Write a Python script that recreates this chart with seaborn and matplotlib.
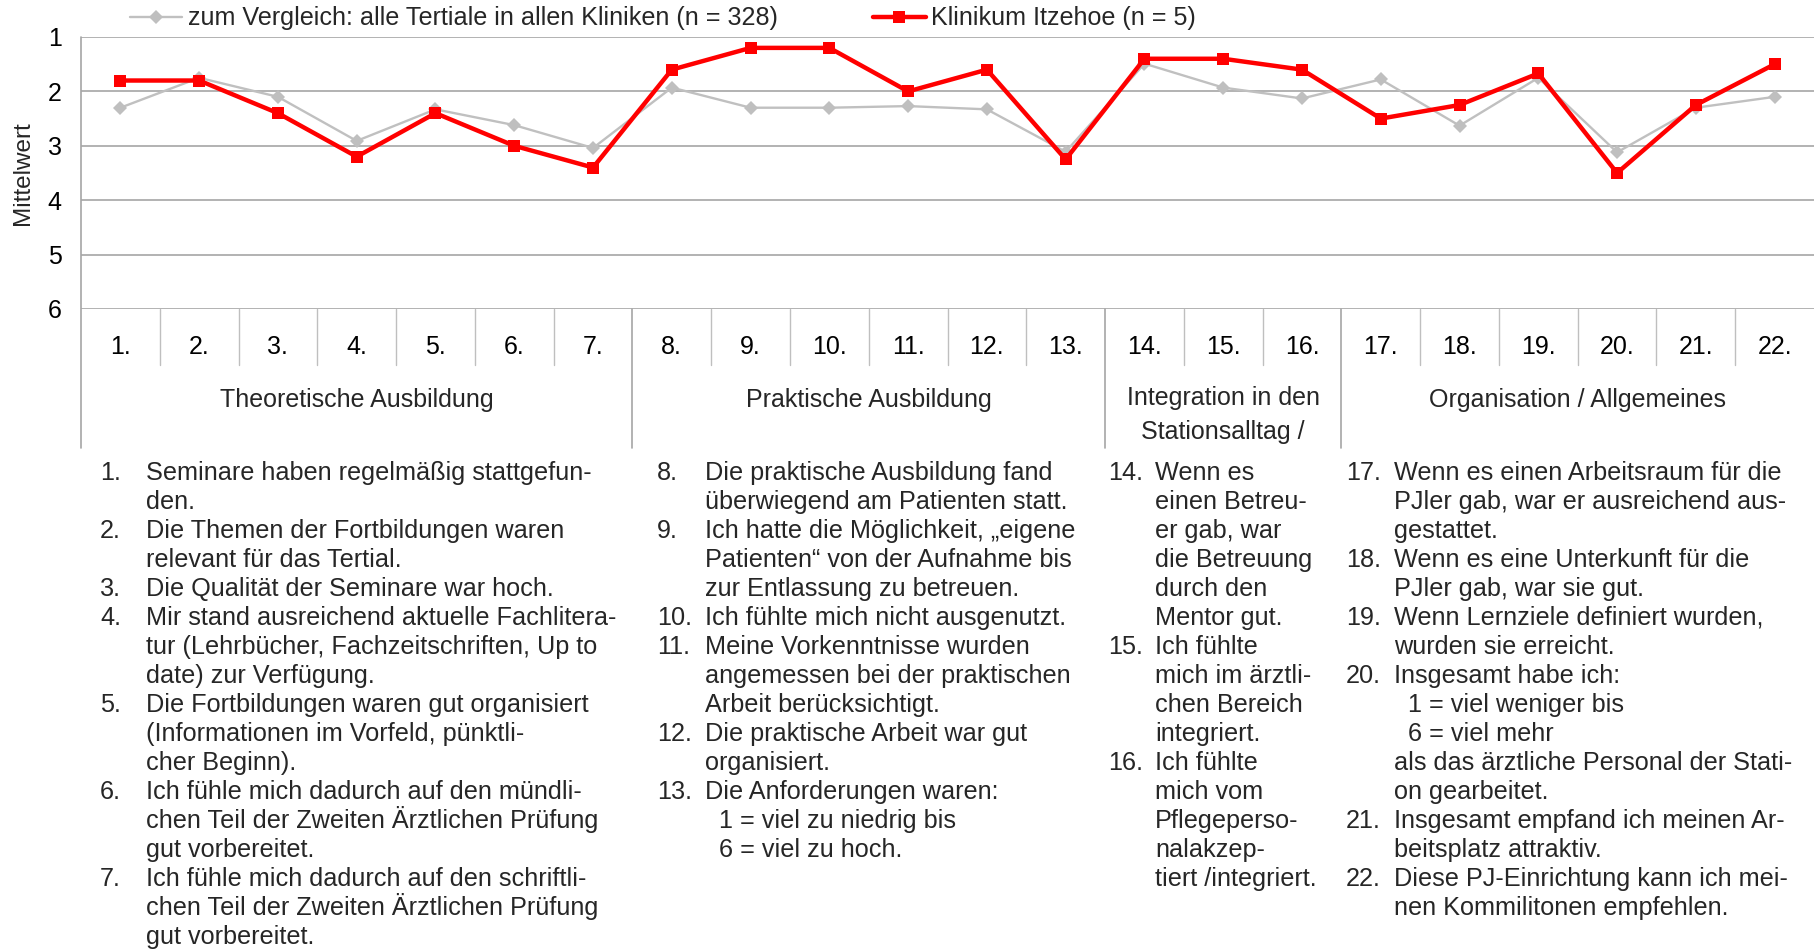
import numpy as np
import pandas as pd
import matplotlib
matplotlib.use("Agg")
import matplotlib.pyplot as plt
import seaborn as sns

# Daten
items = list(range(1, 23))
item_labels = [f"{i}." for i in items]
alle_kliniken = [2.30, 1.75, 2.10, 2.91, 2.33, 2.62, 3.04, 1.93, 2.30, 2.30, 2.27,
                 2.33, 3.11, 1.49, 1.93, 2.13, 1.78, 2.63, 1.75, 3.12, 2.30, 2.10]
itzehoe = [1.8, 1.8, 2.4, 3.2, 2.4, 3.0, 3.4, 1.6, 1.2, 1.2, 2.0,
           1.6, 3.25, 1.4, 1.4, 1.6, 2.5, 2.25, 1.67, 3.5, 2.25, 1.5]
label_alle = "zum Vergleich: alle Tertiale in allen Kliniken (n = 328)"
label_itzehoe = "Klinikum Itzehoe (n = 5)"

gruppen = ["Theoretische Ausbildung", "Praktische Ausbildung",
           "Integration in den\nStationsalltag /", "Organisation / Allgemeines"]
gruppen_von_bis = [(1, 7), (8, 13), (14, 16), (17, 22)]

spalte1 = [
    ("1.", ["Seminare haben regelmäßig stattgefun-", "den."]),
    ("2.", ["Die Themen der Fortbildungen waren", "relevant für das Tertial."]),
    ("3.", ["Die Qualität der Seminare war hoch."]),
    ("4.", ["Mir stand ausreichend aktuelle Fachlitera-",
            "tur (Lehrbücher, Fachzeitschriften, Up to", "date) zur Verfügung."]),
    ("5.", ["Die Fortbildungen waren gut organisiert",
            "(Informationen im Vorfeld, pünktli-", "cher Beginn)."]),
    ("6.", ["Ich fühle mich dadurch auf den mündli-",
            "chen Teil der Zweiten Ärztlichen Prüfung", "gut vorbereitet."]),
    ("7.", ["Ich fühle mich dadurch auf den schriftli-",
            "chen Teil der Zweiten Ärztlichen Prüfung", "gut vorbereitet."]),
]
spalte2 = [
    ("8.", ["Die praktische Ausbildung fand", "überwiegend am Patienten statt."]),
    ("9.", ["Ich hatte die Möglichkeit, „eigene", "Patienten“ von der Aufnahme bis",
            "zur Entlassung zu betreuen."]),
    ("10.", ["Ich fühlte mich nicht ausgenutzt."]),
    ("11.", ["Meine Vorkenntnisse wurden", "angemessen bei der praktischen",
             "Arbeit berücksichtigt."]),
    ("12.", ["Die praktische Arbeit war gut", "organisiert."]),
    ("13.", ["Die Anforderungen waren:", "  1 = viel zu niedrig bis", "  6 = viel zu hoch."]),
]
spalte3 = [
    ("14.", ["Wenn es", "einen Betreu-", "er gab, war", "die Betreuung", "durch den", "Mentor gut."]),
    ("15.", ["Ich fühlte", "mich im ärztli-", "chen Bereich", "integriert."]),
    ("16.", ["Ich fühlte", "mich vom", "Pflegeperso-", "nalakzep-", "tiert /integriert."]),
]
spalte4 = [
    ("17.", ["Wenn es einen Arbeitsraum für die", "PJler gab, war er ausreichend aus-",
             "gestattet."]),
    ("18.", ["Wenn es eine Unterkunft für die", "PJler gab, war sie gut."]),
    ("19.", ["Wenn Lernziele definiert wurden,", "wurden sie erreicht."]),
    ("20.", ["Insgesamt habe ich:", "  1 = viel weniger bis", "  6 = viel mehr",
             "als das ärztliche Personal der Stati-", "on gearbeitet."]),
    ("21.", ["Insgesamt empfand ich meinen Ar-", "beitsplatz attraktiv."]),
    ("22.", ["Diese PJ-Einrichtung kann ich mei-", "nen Kommilitonen empfehlen."]),
]

sns.set_style("white")
plt.rcParams["font.family"] = ["Liberation Sans", "DejaVu Sans"]

W, H = 1814, 949
fig = plt.figure(figsize=(W / 100, H / 100), dpi=100)
ax = fig.add_axes([81 / W, 1 - 309 / H, (W - 81) / W, (309 - 37) / H])

df = pd.DataFrame({"Item": items, "alle": alle_kliniken, "itz": itzehoe})
sns.lineplot(data=df, x="Item", y="alle", ax=ax, color="#C0C0C0", linewidth=1.7,
             marker="D", markersize=7, markeredgewidth=0, markerfacecolor="#BFBFBF",
             label=label_alle, zorder=3)
sns.lineplot(data=df, x="Item", y="itz", ax=ax, color="#FF0000", linewidth=3.2,
             marker="s", markersize=8, markeredgewidth=0, markerfacecolor="#FF0000",
             label=label_itzehoe, zorder=4)

ax.set_xlim(0.5, 22.5)
ax.set_ylim(6, 1)
ax.set_yticks([1, 2, 3, 4, 5, 6])
ax.set_yticklabels(["1", "2", "3", "4", "5", "6"])
ax.set_xticks(items)
ax.set_xticklabels(item_labels)
ax.tick_params(axis="both", length=0, labelsize=18, colors="#000000")
ax.tick_params(axis="x", pad=27.6)
ax.tick_params(axis="y", pad=14)
for lab in ax.get_xticklabels():
    lab.set_verticalalignment("center")
for s in ax.spines.values():
    s.set_visible(False)
ax.yaxis.grid(True, color="#A6A6A6", linewidth=1.2)
ax.xaxis.grid(False)
ax.set_xlabel("")
ax.set_ylabel("Mittelwert", fontsize=17.5)
ax.yaxis.set_label_coords(-0.0335, 0.5)
ax.yaxis.label.set_verticalalignment("center")

# Kategorie- und Gruppenzeilen unter der Achse
xt = ax.get_xaxis_transform()
zeile_unten = (309 - 365) / 272
gruppe_unten = (309 - 448) / 272
grenzen = [b + 0.5 for _, b in gruppen_von_bis[:-1]]
for i in items[:-1]:
    if i + 0.5 not in grenzen:
        ax.plot([i + 0.5, i + 0.5], [0, zeile_unten], transform=xt, color="#BFBFBF",
                linewidth=1.0, clip_on=False)
for g in [0.5] + grenzen:
    ax.plot([g, g], [1, gruppe_unten] if g == 0.5 else [0, gruppe_unten], transform=xt,
            color="#A6A6A6", linewidth=1.2, clip_on=False)

for name, (a, b) in zip(gruppen, gruppen_von_bis):
    if "\n" in name:
        ax.text((a + b) / 2, (309 - 415) / 272, name, transform=xt, ha="center",
                va="center", fontsize=18, linespacing=1.5)
    else:
        ax.text((a + b) / 2, (309 - 399.5) / 272, name, transform=xt, ha="center",
                va="center", fontsize=18)

# Legende
handles, labels = ax.get_legend_handles_labels()
if ax.get_legend() is not None:
    ax.get_legend().remove()
fig.legend(handles, labels, loc="center left", bbox_to_anchor=(130 / W, 1 - 18.5 / H),
           ncol=2, frameon=False, fontsize=18.1, handlelength=2.08, handletextpad=0.22,
           columnspacing=3.8, borderpad=0, borderaxespad=0)

# Erläuterungstexte
def spalte(eintraege, x_nr, x_txt, y0=480, dy=29):
    zeile = 0
    for nr, zeilen in eintraege:
        fig.text(x_nr / W, 1 - (y0 + dy * zeile) / H, nr, fontsize=18.2, va="baseline")
        for z in zeilen:
            fig.text(x_txt / W, 1 - (y0 + dy * zeile) / H, z, fontsize=18.2, va="baseline")
            zeile += 1

spalte(spalte1, 100, 146)
spalte(spalte2, 657, 705)
spalte(spalte3, 1108, 1155)
spalte(spalte4, 1346, 1394)

fig.savefig("out.png", dpi=100)
